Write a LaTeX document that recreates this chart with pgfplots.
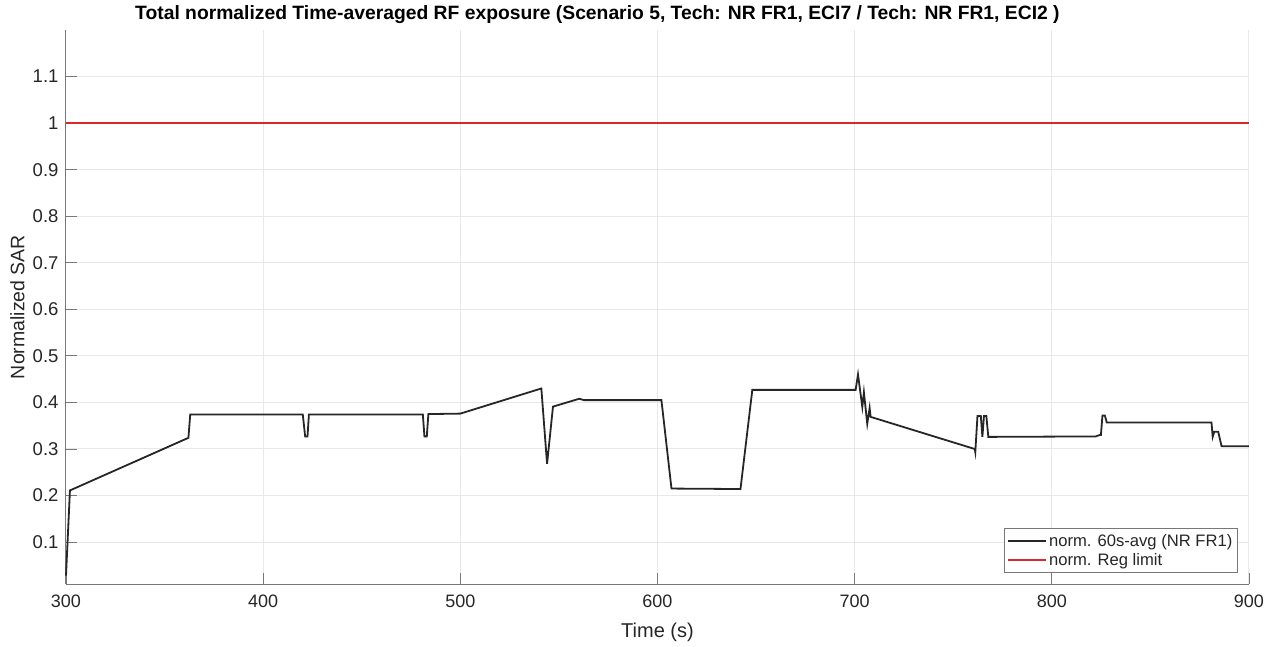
\documentclass[border=0pt]{standalone}
\usepackage{fontspec}
\setmainfont{Liberation Sans}
\usepackage{pgfplots}
\pgfplotsset{compat=1.18}
\definecolor{regred}{RGB}{214,40,45}
\definecolor{axgray}{RGB}{120,120,120}
\definecolor{txtgray}{RGB}{38,38,38}
\begin{document}
\begin{tikzpicture}[x=1pt,y=1pt]
\path[use as bounding box] (0,0) rectangle (1277,646);
\begin{axis}[
  at={(66pt,62pt)}, anchor=south west,
  width=1183pt, height=554pt, scale only axis,
  xmin=300, xmax=900, ymin=0.01, ymax=1.2,
  xtick={300,400,500,600,700,800,900},
  ytick={0.1,0.2,0.3,0.4,0.5,0.6,0.7,0.8,0.9,1,1.1},
  axis lines*=left,
  axis line style={axgray, line width=1pt},
  tick align=inside,
  major tick length=11pt,
  tick style={axgray, line width=0.8pt},
  grid=major,
  major grid style={gray!18, line width=1pt},
  /pgf/number format/assume math mode=true,
  xticklabel style={font=\fontsize{18}{20}\selectfont, text=txtgray, yshift=-7pt},
  yticklabel style={font=\fontsize{18.5}{20}\selectfont, text=txtgray, xshift=-4pt},
  xlabel={Time (s)},
  ylabel={Normalized SAR},
  xlabel style={font=\fontsize{20}{22}\selectfont, text=txtgray, at={(axis description cs:0.5,-0.0865)}, anchor=center},
  ylabel style={font=\fontsize{19.5}{21}\selectfont, text=txtgray, at={(axis description cs:-0.041,0.5)}, anchor=center},
  legend style={at={(0.9905,0.0198)}, anchor=south east, draw=axgray, line width=0.8pt,
    font=\fontsize{16.6}{19}\selectfont, text=txtgray, inner xsep=3pt, inner ysep=4pt, row sep=1pt},
  legend cell align=left,
  legend image code/.code={\draw[#1, line width=1.7pt] (0pt,0pt) -- (38pt,0pt);},
  clip=false,
]
\addplot[black!85, line width=1.8pt] coordinates {
(300,0.028) (302,0.211) (362.1,0.324) (363,0.374) (420.1,0.374) (421.3,0.327)
(422.5,0.327) (423.2,0.374) (481,0.374) (481.8,0.327) (483,0.327) (483.8,0.375)
(500,0.376) (541.1,0.430) (544,0.268) (547,0.391) (560.4,0.408) (562.6,0.405)
(602,0.405) (607.1,0.215) (642.1,0.214) (648.1,0.427) (700.5,0.427) (701.7,0.460)
(703.9,0.390) (704.7,0.422) (706.4,0.354) (707.6,0.388) (708.1,0.369) (760.9,0.300)
(761.2,0.293) (762.3,0.371) (764,0.371) (764.8,0.326) (765.6,0.371) (766.8,0.371)
(767.8,0.326) (822.3,0.327) (824.2,0.330) (824.9,0.330) (825.7,0.372) (826.9,0.372)
(827.9,0.357) (881,0.357) (881.6,0.326) (882.4,0.337) (884.4,0.337) (886.1,0.306)
(900,0.306)
};
\addlegendentry{norm. 60s-avg (NR FR1)}
\addplot[regred, line width=1.8pt] coordinates {(300,1) (900,1)};
\addlegendentry{norm. Reg limit}
\end{axis}
\node[anchor=west, font=\bfseries\fontsize{19.3}{21}\selectfont, inner sep=0pt] at (135pt,631pt)
  {Total normalized Time-averaged RF exposure (Scenario 5, Tech: NR FR1, ECI7 / Tech: NR FR1, ECI2 )};
\end{tikzpicture}
\end{document}
